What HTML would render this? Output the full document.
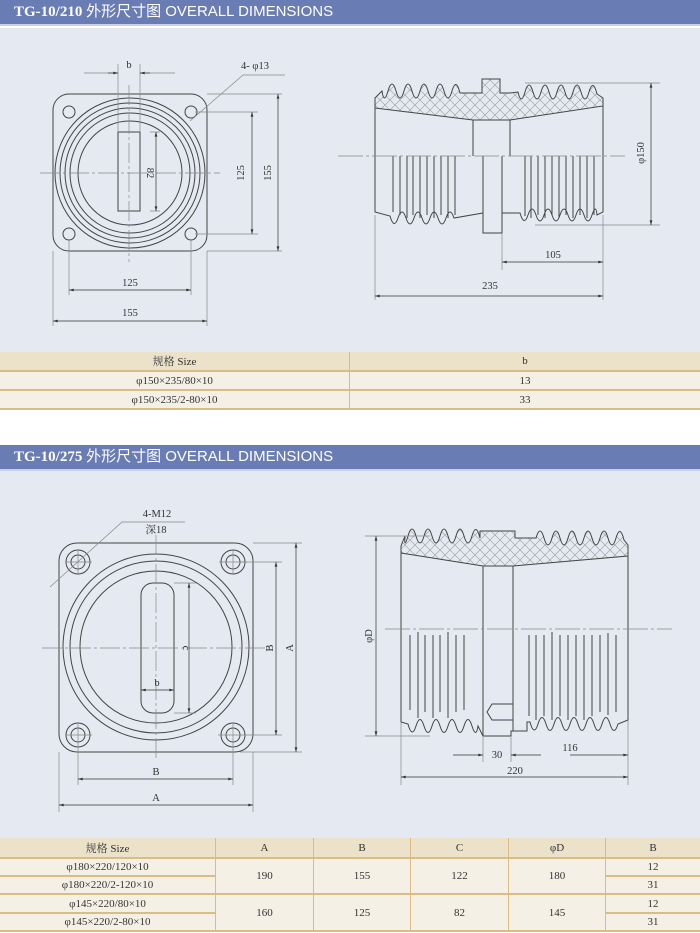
<!DOCTYPE html>
<html><head><meta charset="utf-8"><style>
body{margin:0;width:700px;height:933px;background:#fff;overflow:hidden;font-family:"Liberation Serif","Noto Serif CJK SC",serif;position:relative}
.hd{position:absolute;left:0;width:700px;height:24px;background:#6a7cb4;color:#fff;font-size:15px;line-height:24px;border-bottom:2px solid #c9d0e3}
.hd b{font-family:"Liberation Serif",serif;margin-left:14px}
.hd span{font-family:"Liberation Sans","Noto Sans CJK SC",sans-serif}
.bg{position:absolute;left:0;width:700px;background:#e5e9f1}
table{position:absolute;left:0;width:700px;border-collapse:collapse;font-size:11px;color:#333;text-align:center}
td{border-bottom:2px solid #d9bd85;border-left:1px solid #d9bd85;background:#f4f0e5;padding:0}
tr.h td{background:#ebe2c9}
td:first-child{border-left:none}
svg{position:absolute;left:0;top:0}
</style></head><body>
<div class="hd" style="top:0"><b>TG-10/210</b> <span>外形尺寸图 OVERALL DIMENSIONS</span></div>
<div class="bg" style="top:28px;height:324px"></div>
<table style="top:352px"><tr class="h" style="height:19px"><td style="width:349px">规格 Size</td><td>b</td></tr>
<tr style="height:19px"><td>φ150×235/80×10</td><td>13</td></tr>
<tr style="height:19px"><td>φ150×235/2-80×10</td><td>33</td></tr></table>
<div class="hd" style="top:445px"><b>TG-10/275</b> <span>外形尺寸图 OVERALL DIMENSIONS</span></div>
<div class="bg" style="top:471px;height:367px"></div>
<table style="top:838px"><tr class="h" style="height:20px"><td style="width:215px">规格 Size</td><td style="width:97px">A</td><td style="width:96px">B</td><td style="width:97px">C</td><td style="width:96px">φD</td><td>B</td></tr>
<tr style="height:18px"><td>φ180×220/120×10</td><td rowspan="2">190</td><td rowspan="2">155</td><td rowspan="2">122</td><td rowspan="2">180</td><td>12</td></tr>
<tr style="height:18px"><td>φ180×220/2-120×10</td><td>31</td></tr>
<tr style="height:19px"><td>φ145×220/80×10</td><td rowspan="2">160</td><td rowspan="2">125</td><td rowspan="2">82</td><td rowspan="2">145</td><td>12</td></tr>
<tr style="height:18px"><td>φ145×220/2-80×10</td><td>31</td></tr></table>

<svg width="700" height="933" viewBox="0 0 700 933" font-family="Liberation Serif, Noto Serif CJK SC, serif" font-size="10.5" fill="#333">
<defs>
<pattern id="hx" width="10" height="10" patternUnits="userSpaceOnUse"><path d="M0,0L10,10M10,0L0,10" stroke="#999" stroke-width="0.6"/></pattern>
<marker id="a" viewBox="0 0 10 6" refX="10" refY="3" markerWidth="8" markerHeight="4" orient="auto-start-reverse"><path d="M0,0L10,3L0,6z" fill="#333"/></marker>
</defs>
<g stroke="#444" fill="none" stroke-width="1">
<!-- top-left -->
<rect x="53" y="94" width="154" height="157" rx="16"/>
<circle cx="69" cy="112" r="6"/><circle cx="191" cy="112" r="6"/><circle cx="69" cy="234" r="6"/><circle cx="191" cy="234" r="6"/>
<circle cx="130" cy="173" r="75"/><circle cx="130" cy="173" r="70"/><circle cx="130" cy="173" r="65"/><circle cx="130" cy="173" r="60"/><circle cx="130" cy="173" r="52"/>
<rect x="118" y="132" width="22" height="79"/>
<g stroke="#888" stroke-width="0.7">
<path d="M40,173H220" stroke-dasharray="20,3,3,3"/><path d="M129,85V262" stroke-dasharray="20,3,3,3"/>
<path d="M118,64V132M140,64V132M84,73H118M140,73H175"/>
<path d="M190,121L243,75H285"/>
<path d="M195,112H258M195,234H258M150,132H160M150,211H160M207,94H282M207,251H282"/>
<path d="M69,240V295M191,240V295M53,251V326M207,251V326"/>
</g>
<g stroke="#333" stroke-width="0.7" marker-end="url(#a)">
<path d="M108,73H118"/><path d="M150,73H140"/>
<path d="M156,172V132"/><path d="M156,172V211"/>
<path d="M252,172V112"/><path d="M252,172V234"/>
<path d="M278,172V94"/><path d="M278,172V251"/>
<path d="M130,290H69"/><path d="M130,290H191"/>
<path d="M130,321H53"/><path d="M130,321H207"/>
</g>
<!-- top-right -->
<path d="M375,108L473,120H510L603,106V98L597,94 q-4,-16 -8,-2 t-8,0 t-8,0 t-8,0 t-8,0 t-8,0 t-8,0 t-8,0 t-8,0 t-7,0 L510,93H500V79H482V93H460 q-4,-16 -8,-2 t-8,0 t-8,0 t-8,0 t-8,0 t-8,0 t-8,0 t-8,0 t-8,0 t-6,0 L375,98Z" fill="url(#hx)"/>
<path d="M375,98V212L390,216 q4,14 8,2 t8,0 t8,0 t8,0 t8,0 t8,0 t8,0 t8,0 L483,213V233H502V213H520 q4,14 8,2 t8,0 t8,0 t8,0 t8,0 t8,0 t8,0 t8,0 t8,0 t5,0 L603,212V98"/>
<path d="M473,120V156M510,120V156M483,156V213M502,156V213"/>
<path d="M393,156V212M400,156V215M407,156V218M413,156V215M420,156V218M427,156V215M434,156V218M441,156V215M448,156V218M455,156V215M525,156V216M531,156V218M538,156V215M545,156V218M552,156V215M559,156V218M566,156V215M573,156V218M580,156V215M587,156V218M594,156V215"/>
<g stroke="#888" stroke-width="0.7">
<path d="M338,156H625" stroke-dasharray="25,3,3,3"/>
<path d="M525,83H660M535,225H660M502,233V270M603,215V300M375,215V300"/>
</g>
<g stroke="#333" stroke-width="0.7" marker-end="url(#a)">
<path d="M651,154V83"/><path d="M651,154V225"/>
<path d="M553,262H502"/><path d="M553,262H603"/>
<path d="M490,296H375"/><path d="M490,296H603"/>
</g>
<!-- bottom-left -->
<rect x="59" y="543" width="194" height="209" rx="18"/>
<g><circle cx="78" cy="562" r="12"/><circle cx="78" cy="562" r="7"/><circle cx="233" cy="562" r="12"/><circle cx="233" cy="562" r="7"/><circle cx="78" cy="735" r="12"/><circle cx="78" cy="735" r="7"/><circle cx="233" cy="735" r="12"/><circle cx="233" cy="735" r="7"/></g>
<circle cx="156" cy="647" r="93"/><circle cx="156" cy="647" r="86"/><circle cx="156" cy="647" r="76"/>
<rect x="141" y="583" width="33" height="130" rx="12"/>
<g stroke="#888" stroke-width="0.7">
<path d="M42,648H270" stroke-dasharray="20,3,3,3"/><path d="M156,535V760" stroke-dasharray="20,3,3,3"/>
<path d="M50,587L122,522H185"/>
<path d="M66,562H92M219,562H247M78,550V574M233,550V574M66,735H92M78,723V747M233,723V747"/>
<path d="M174,583H196M174,713H196M240,562H282M218,735H282M253,543H302M240,752H302"/>
<path d="M78,747V785M233,747V785M59,752V812M253,752V812"/>
</g>
<g stroke="#333" stroke-width="0.7" marker-end="url(#a)">
<path d="M189,648V583"/><path d="M189,648V713"/>
<path d="M157,690H141"/><path d="M157,690H174"/>
<path d="M276,648V562"/><path d="M276,648V735"/>
<path d="M296,648V543"/><path d="M296,648V752"/>
<path d="M156,779H78"/><path d="M156,779H233"/>
<path d="M156,805H59"/><path d="M156,805H253"/>
</g>
<!-- bottom-right -->
<path d="M401,553L483,566H513L628,556V545L624,540 q-4,-16 -8,-2 t-8,0 t-8,0 t-8,0 t-8,0 t-8,0 t-8,0 t-8,0 t-8,0 t-8,0 t-8,0 L515,538V531H480V538 q-4,-16 -8,-2 t-8,0 t-8,0 t-8,0 t-8,0 t-8,0 t-8,0 t-8,0 t-8,0 t-3,0 L401,546Z" fill="url(#hx)"/>
<path d="M401,546V722L408,724 q4,15 8,2 t8,0 t8,0 t8,0 t8,0 t8,0 t8,0 t8,0 t6,0 L483,736H511V731H527V722H530 q4,15 8,2 t8,0 t8,0 t8,0 t8,0 t8,0 t8,0 t8,0 t8,0 t8,0 t8,0 L628,720V545"/>
<path d="M483,566V736M513,566V731"/>
<path d="M492,704H513V720H492L487,712Z"/>
<path d="M410,635V710M418,632V718M425,635V712M433,635V718M440,635V712M448,632V718M456,635V712M464,635V710M529,635V716M536,635V720M544,635V716M552,632V720M560,635V716M568,635V720M576,635V716M584,635V720M592,635V716M600,635V712M608,633V715M616,635V712"/>
<g stroke="#888" stroke-width="0.7">
<path d="M385,629H672" stroke-dasharray="25,3,3,3"/>
<path d="M365,536H430M365,736H430M483,736V762M511,736V762M628,720V785M401,722V785"/>
</g>
<g stroke="#333" stroke-width="0.7" marker-end="url(#a)">
<path d="M376,636V536"/><path d="M376,636V736"/>
<path d="M453,755H483"/><path d="M541,755H511"/><path d="M570,755H628"/>
<path d="M515,777H401"/><path d="M515,777H628"/>
</g>
</g>
<g text-anchor="middle">
<text x="129" y="68">b</text><text x="255" y="69">4- φ13</text>
<text x="130" y="286">125</text><text x="130" y="316">155</text>
<text transform="translate(147,173) rotate(90)">82</text>
<text transform="translate(244,173) rotate(-90)">125</text>
<text transform="translate(271,173) rotate(-90)">155</text>
<text transform="translate(644,153) rotate(-90)">φ150</text>
<text x="553" y="258">105</text><text x="490" y="289">235</text>
<text x="157" y="517">4-M12</text><text x="156" y="533">深18</text>
<text transform="translate(183,648) rotate(90)">c</text>
<text x="157" y="686">b</text>
<text transform="translate(273,648) rotate(-90)">B</text>
<text transform="translate(293,648) rotate(-90)">A</text>
<text x="156" y="775">B</text><text x="156" y="801">A</text>
<text transform="translate(372,636) rotate(-90)">φD</text>
<text x="497" y="758">30</text><text x="570" y="751">116</text><text x="515" y="774">220</text>
</g>
</svg>
</body></html>
